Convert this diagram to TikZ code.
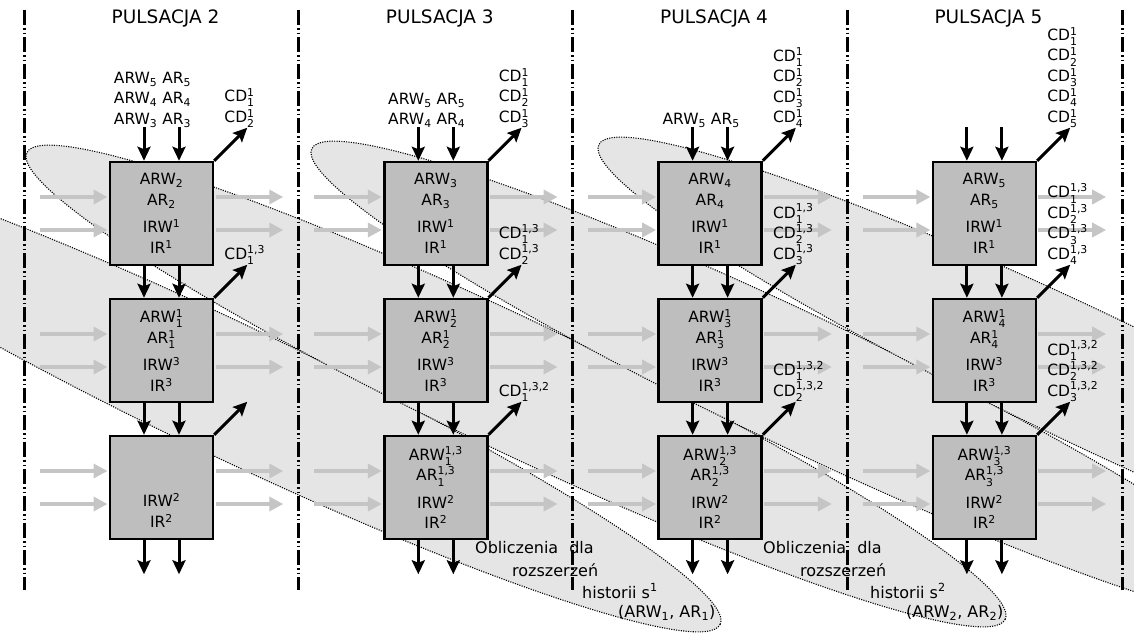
\documentclass[tikz,border=0pt]{standalone}
\usepackage{amsmath}
\usepackage{fontspec}
\setmainfont{DejaVu Sans}
\usepackage{tikz}
\usetikzlibrary{arrows.meta}
\definecolor{unitgray}{RGB}{190,190,190}
\definecolor{passgray}{RGB}{197,197,197}
\definecolor{zonegray}{RGB}{229,229,229}
\newcommand{\lbl}{\fontsize{15.5}{20.5}\selectfont}
\newcommand{\ttl}{\fontsize{18.5}{22}\selectfont}
\newcommand{\subx}[1]{\ensuremath{_{\text{#1}}}}
\newcommand{\supx}[1]{\ensuremath{^{\text{#1}}}}
\newcommand{\idx}[2]{\ensuremath{^{\text{#1}}_{\text{#2}}}}

\begin{document}
\begin{tikzpicture}[x=1pt, y=-1pt,
    unit/.style={rectangle, draw=black, line width=2.5pt, fill=unitgray,
                 minimum width=103pt, minimum height=103pt, inner sep=0pt,
                 align=center, font=\lbl},
    flow/.style={-{Stealth[length=14pt,width=13pt,inset=2.5pt]}, line width=3pt},
    pass/.style={-{Triangle[length=14pt,width=14pt]}, line width=3.5pt, passgray},
    zone/.style={fill=zonegray, draw=black, line width=1.1pt, dash pattern=on 1.1pt off 1.3pt},
    sep/.style={line width=3pt, dash pattern=on 15pt off 3pt on 1.5pt off 3pt on 1.5pt off 3pt},
    tag/.style={inner sep=0pt, align=left, font=\lbl},
    note/.style={inner sep=0pt, anchor=west, font=\fontsize{16}{19}\selectfont}
  ]
  \clip (0,0) rectangle (1134,635);

  % obszary obliczen dla historii
  \foreach \ex/\ey in {231/391, 516/386, 801/382, 1088/378}
    \path[zone, rotate around={-25.5:(\ex,\ey)}] (\ex,\ey) ellipse [x radius=542pt, y radius=66pt];

  % granice pulsacji
  \foreach \x in {24,298,572,847,1122}
    \draw[sep] (\x,10) -- (\x,590);

  % tytuly
  \foreach \c/\n in {0/2,1/3,2/4,3/5}
    \node[font=\ttl] (title\c) at (165.5+274.3*\c,18.5) {PULSACJA \n};

  % bloki
  \foreach \c/\n/\m in {0/2/1,1/3/2,2/4/3,3/5/4}{
    \node[unit] (top\c) at (161.5+274.3*\c,213.5)
      {ARW\subx{\n}\\AR\subx{\n}\\[7pt]IRW\supx{1}\\IR\supx{1}};
    \node[unit] (mid\c) at (161.5+274.3*\c,350.5)
      {ARW\idx{1}{\m}\\AR\idx{1}{\m}\\[7pt]IRW\supx{3}\\IR\supx{3}};
  }
  \node[unit] (bot0) at (161.5,487.5)
    {\vphantom{ARW\subx{1}}\\\vphantom{AR\subx{1}}\\[7pt]IRW\supx{2}\\IR\supx{2}};
  \foreach \c in {1,2,3}
    \node[unit] (bot\c) at (161.5+274.3*\c,487.5)
      {ARW\idx{1,3}{\c}\\AR\idx{1,3}{\c}\\[7pt]IRW\supx{2}\\IR\supx{2}};

  % przeplyw poziomy
  \foreach \b in {top,mid,bot}
    \foreach \c in {0,...,3}
      \foreach \d in {-16.5,16.5}{
        \draw[pass, shorten >=1.25pt] ([shift={(-69,\d)}]\b\c.west) -- ([shift={(0,\d)}]\b\c.west);
        \draw[pass, shorten <=1.25pt] ([shift={(0,\d)}]\b\c.east) -- ([shift={(69,\d)}]\b\c.east);
      }

  % przeplyw pionowy
  \foreach \c in {0,...,3}{
    \foreach \s in {-17.5,17.5}{
      \draw[flow] ([shift={(\s,-34)}]top\c.north) -- ([xshift=\s pt]top\c.north);
      \draw[flow] ([xshift=\s pt]top\c.south) -- ([xshift=\s pt]mid\c.north);
      \draw[flow] ([xshift=\s pt]mid\c.south) -- ([xshift=\s pt]bot\c.north);
      \draw[flow] ([xshift=\s pt]bot\c.south) -- ([shift={(\s,34)}]bot\c.south);
    }
    \foreach \b in {top,mid,bot}
      \draw[flow] (\b\c.north east) -- ([shift={(33,-33)}]\b\c.north east);
  }

  % dane wejsciowe
  \node[tag, align=center, anchor=south] (in0) at ([shift={(-9,-33)}]top0.north)
    {ARW\subx{5} AR\subx{5}\\ARW\subx{4} AR\subx{4}\\ARW\subx{3} AR\subx{3}};
  \node[tag, align=center, anchor=south] (in1) at ([shift={(-9,-33)}]top1.north)
    {ARW\subx{5} AR\subx{5}\\ARW\subx{4} AR\subx{4}};
  \node[tag, align=center, anchor=south] (in2) at ([shift={(-9,-33)}]top2.north)
    {ARW\subx{5} AR\subx{5}};

  % wyniki
  \node[tag, anchor=south west] (cdtop0) at ([shift={(10,-33)}]top0.north east)
    {CD\idx{1}{1}\\CD\idx{1}{2}};
  \node[tag, anchor=south west] (cdtop1) at ([shift={(10,-33)}]top1.north east)
    {CD\idx{1}{1}\\CD\idx{1}{2}\\CD\idx{1}{3}};
  \node[tag, anchor=south west] (cdtop2) at ([shift={(10,-33)}]top2.north east)
    {CD\idx{1}{1}\\CD\idx{1}{2}\\CD\idx{1}{3}\\CD\idx{1}{4}};
  \node[tag, anchor=south west] (cdtop3) at ([shift={(10,-33)}]top3.north east)
    {CD\idx{1}{1}\\CD\idx{1}{2}\\CD\idx{1}{3}\\CD\idx{1}{4}\\CD\idx{1}{5}};

  \node[tag, anchor=south west] (cdmid0) at ([shift={(10,-33)}]mid0.north east)
    {CD\idx{1,3}{1}};
  \node[tag, anchor=south west] (cdmid1) at ([shift={(10,-33)}]mid1.north east)
    {CD\idx{1,3}{1}\\CD\idx{1,3}{2}};
  \node[tag, anchor=south west] (cdmid2) at ([shift={(10,-33)}]mid2.north east)
    {CD\idx{1,3}{1}\\CD\idx{1,3}{2}\\CD\idx{1,3}{3}};
  \node[tag, anchor=south west] (cdmid3) at ([shift={(10,-33)}]mid3.north east)
    {CD\idx{1,3}{1}\\CD\idx{1,3}{2}\\CD\idx{1,3}{3}\\CD\idx{1,3}{4}};

  \node[tag, anchor=south west] (cdbot1) at ([shift={(10,-33)}]bot1.north east)
    {CD\idx{1,3,2}{1}};
  \node[tag, anchor=south west] (cdbot2) at ([shift={(10,-33)}]bot2.north east)
    {CD\idx{1,3,2}{1}\\CD\idx{1,3,2}{2}};
  \node[tag, anchor=south west] (cdbot3) at ([shift={(10,-33)}]bot3.north east)
    {CD\idx{1,3,2}{1}\\CD\idx{1,3,2}{2}\\CD\idx{1,3,2}{3}};

  % opisy obszarow
  \foreach \k/\dx in {1/0,2/288}{
    \node[note] (calc\k-a) at (475+\dx,548) {Obliczenia\hspace{11pt}dla};
    \node[note] (calc\k-b) at (512+\dx,570) {rozszerzeń};
    \node[note] (calc\k-c) at (582+\dx,591) {historii s\supx{\k}};
    \node[note] (calc\k-d) at (618+\dx,613) {(ARW\subx{\k}, AR\subx{\k})};
  }
\end{tikzpicture}
\end{document}
